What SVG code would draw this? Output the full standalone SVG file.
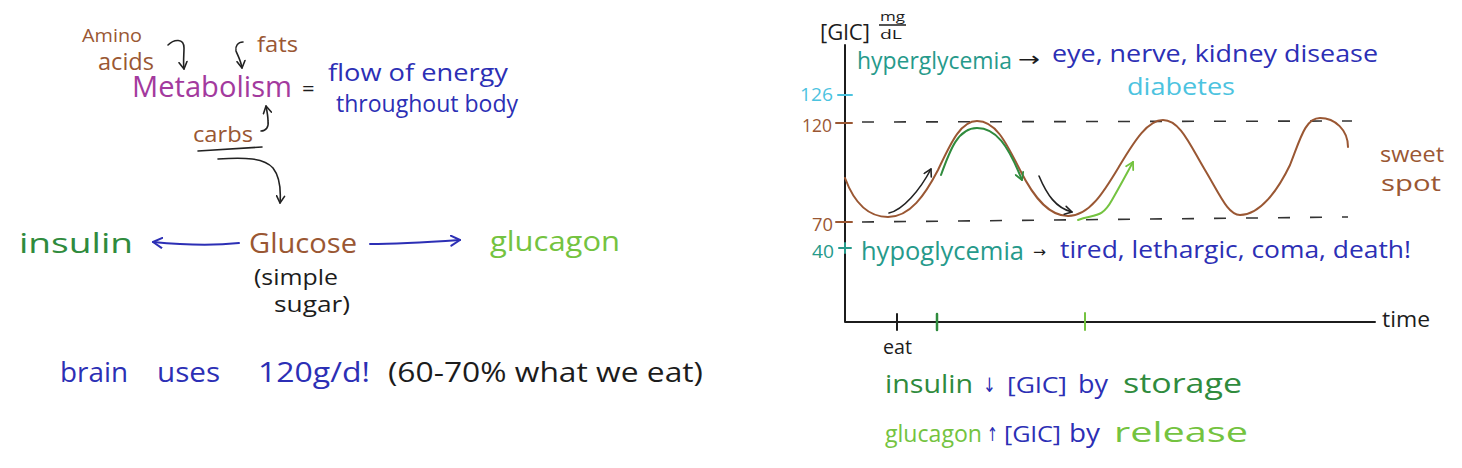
<svg xmlns="http://www.w3.org/2000/svg" width="1462" height="468" viewBox="0 0 1462 468">
<style>
text{font-family:"Open Sans","Liberation Sans",sans-serif;font-weight:400}
.ar{font-family:"DejaVu Sans","Liberation Sans",sans-serif}
.br{fill:#9a5733}.pu{fill:#a33a9e}.bl{fill:#2c2fb5}.gr{fill:#2f8b3d}.lg{fill:#74c340}.te{fill:#269a8b}.cy{fill:#4cc3df}.bk{fill:#1c1c1c}
.ln{fill:none;stroke-linecap:round;stroke-linejoin:round}
.k{stroke:#222;stroke-width:1.6}.b{stroke:#2c2fb5;stroke-width:2}.g{stroke:#2f8b3d;stroke-width:2}.l{stroke:#74c340;stroke-width:2}
.c{stroke:#9a5733;stroke-width:2}
.dash{fill:none;stroke:#333;stroke-width:1.6;stroke-dasharray:12 20}
</style>
<defs>
<marker id="mk" viewBox="0 0 10 10" refX="8" refY="5" markerWidth="10" markerHeight="10" markerUnits="userSpaceOnUse" orient="auto"><path d="M1,1 L8,5 L1,9" fill="none" stroke="#222" stroke-width="1.6" stroke-linecap="round" stroke-linejoin="round"/></marker>
<marker id="mb" viewBox="0 0 12 12" refX="10" refY="6" markerWidth="12" markerHeight="12" markerUnits="userSpaceOnUse" orient="auto"><path d="M1,1 L10,6 L1,11" fill="none" stroke="#2c2fb5" stroke-width="2" stroke-linecap="round" stroke-linejoin="round"/></marker>
<marker id="mg" viewBox="0 0 10 10" refX="8" refY="5" markerWidth="10" markerHeight="10" markerUnits="userSpaceOnUse" orient="auto"><path d="M1,1 L8,5 L1,9" fill="none" stroke="#2f8b3d" stroke-width="1.8" stroke-linecap="round" stroke-linejoin="round"/></marker>
<marker id="ml" viewBox="0 0 10 10" refX="8" refY="5" markerWidth="10" markerHeight="10" markerUnits="userSpaceOnUse" orient="auto"><path d="M1,1 L8,5 L1,9" fill="none" stroke="#74c340" stroke-width="1.8" stroke-linecap="round" stroke-linejoin="round"/></marker>
</defs>
<rect width="1462" height="468" fill="#ffffff"/>

<!-- Left side nodes -->
<g id="amino-acids">
<text class="br" x="82" y="42" font-size="19" textLength="60" lengthAdjust="spacingAndGlyphs">Amino</text>
<text class="br" x="98" y="70" font-size="23" textLength="56" lengthAdjust="spacingAndGlyphs">acids</text>
</g>
<g id="fats"><text class="br" x="257" y="52" font-size="22" textLength="41" lengthAdjust="spacingAndGlyphs">fats</text></g>
<g id="metabolism">
<text class="pu" x="132" y="97" font-size="29" textLength="160" lengthAdjust="spacingAndGlyphs">Metabolism</text>
<text class="bk" x="302" y="96" font-size="22">=</text>
</g>
<g id="definition">
<text class="bl" x="328" y="81" font-size="24" textLength="180" lengthAdjust="spacingAndGlyphs">flow of energy</text>
<text class="bl" x="336" y="112" font-size="24" textLength="182" lengthAdjust="spacingAndGlyphs">throughout body</text>
</g>
<g id="carbs"><text class="br" x="193" y="142" font-size="22" textLength="60" lengthAdjust="spacingAndGlyphs">carbs</text></g>
<g id="glucose">
<text class="br" x="249" y="253" font-size="28" textLength="108" lengthAdjust="spacingAndGlyphs">Glucose</text>
<text class="bk" x="254" y="285" font-size="21" textLength="84" lengthAdjust="spacingAndGlyphs">(simple</text>
<text class="bk" x="274" y="312" font-size="21" textLength="76" lengthAdjust="spacingAndGlyphs">sugar)</text>
</g>
<g id="insulin"><text class="gr" x="19" y="253" font-size="28" textLength="114" lengthAdjust="spacingAndGlyphs">insulin</text></g>
<g id="glucagon"><text class="lg" x="490" y="251" font-size="28" textLength="130" lengthAdjust="spacingAndGlyphs">glucagon</text></g>
<g id="brain-note">
<text class="bl" x="60" y="382" font-size="28" textLength="68" lengthAdjust="spacingAndGlyphs">brain</text>
<text class="bl" x="157" y="382" font-size="28" textLength="63" lengthAdjust="spacingAndGlyphs">uses</text>
<text class="bl" x="258" y="382" font-size="28" textLength="112" lengthAdjust="spacingAndGlyphs">120g/d!</text>
<text class="bk" x="388" y="382" font-size="27" textLength="315" lengthAdjust="spacingAndGlyphs">(60-70% what we eat)</text>
</g>

<!-- Chart -->
<g id="axes" class="ln" stroke="#1c1c1c" stroke-width="2">
<path d="M845,45 L845,322 L1375,322"/>
<path d="M897,314 L897,330"/>
<path d="M937,314 L937,330" stroke="#2f8b3d" stroke-width="2.5"/>
<path d="M1085,313 L1085,330" stroke="#74c340" stroke-width="2"/>
<path d="M838,95 L852,95" stroke="#4cc3df"/>
<path d="M836,123 L852,123" stroke="#9a5733"/>
<path d="M836,222 L852,222" stroke="#9a5733"/>
<path d="M839,248 L851,248 M845,243 L845,253" stroke="#269a8b"/>
</g>
<g id="axis-labels">
<text class="bk" x="820" y="40" font-size="21" textLength="50" lengthAdjust="spacingAndGlyphs">[GlC]</text>
<text class="bk" x="880" y="21" font-size="12" textLength="25" lengthAdjust="spacingAndGlyphs">mg</text>
<path d="M879,25 L906,25" stroke="#1c1c1c" stroke-width="1.5"/>
<text class="bk" x="880" y="39" font-size="12" textLength="22" lengthAdjust="spacingAndGlyphs">dL</text>
<text class="cy" x="800" y="101" font-size="18" textLength="33" lengthAdjust="spacingAndGlyphs">126</text>
<text class="br" x="802" y="132" font-size="18" textLength="30" lengthAdjust="spacingAndGlyphs">120</text>
<text class="br" x="812" y="231" font-size="18" textLength="21" lengthAdjust="spacingAndGlyphs">70</text>
<text class="te" x="812" y="258" font-size="18" textLength="22" lengthAdjust="spacingAndGlyphs">40</text>
<text class="bk" x="1382" y="327" font-size="22" textLength="48" lengthAdjust="spacingAndGlyphs">time</text>
<text class="bk" x="883" y="354" font-size="20" textLength="29" lengthAdjust="spacingAndGlyphs">eat</text>
</g>
<g id="hyperglycemia">
<text class="te" x="857" y="69" font-size="24" textLength="155" lengthAdjust="spacingAndGlyphs">hyperglycemia</text>
<text class="bk ar" x="1018" y="66" font-size="20" textLength="22" lengthAdjust="spacingAndGlyphs">→</text>
<text class="bl" x="1052" y="62" font-size="24" textLength="326" lengthAdjust="spacingAndGlyphs">eye, nerve, kidney disease</text>
<text class="cy" x="1127" y="95" font-size="24" textLength="108" lengthAdjust="spacingAndGlyphs">diabetes</text>
</g>
<g id="hypoglycemia">
<text class="te" x="861" y="260" font-size="25" textLength="163" lengthAdjust="spacingAndGlyphs">hypoglycemia</text>
<text class="bk ar" x="1033" y="257" font-size="15" textLength="13" lengthAdjust="spacingAndGlyphs">→</text>
<text class="bl" x="1060" y="258" font-size="24" textLength="351" lengthAdjust="spacingAndGlyphs">tired, lethargic, coma, death!</text>
</g>
<g id="sweet-spot">
<text class="br" x="1380" y="162" font-size="22" textLength="64" lengthAdjust="spacingAndGlyphs">sweet</text>
<text class="br" x="1381" y="191" font-size="22" textLength="60" lengthAdjust="spacingAndGlyphs">spot</text>
</g>
<g id="glucose-curve">
<path class="dash" d="M862,122 L1352,121"/>
<path class="dash" d="M862,222 L1348,217"/>
<path class="ln c" d="M845,178 C855,205 870,217 888,217 C910,217 925,195 938,170 C950,145 960,121 977,121 C995,121 1005,140 1020,170 C1035,200 1050,216 1068,216 C1090,216 1105,190 1120,165 C1135,140 1148,120 1163,120 C1180,120 1190,145 1205,170 C1220,195 1228,215 1240,215 C1260,215 1278,190 1290,165 C1300,140 1305,118 1320,118 C1335,118 1348,130 1348,147"/>
</g>
<g id="hormone-notes">
<text class="gr" x="885" y="393" font-size="25" textLength="88" lengthAdjust="spacingAndGlyphs">insulin</text>
<text class="bl ar" x="983" y="392" font-size="20" textLength="13" lengthAdjust="spacingAndGlyphs">↓</text>
<text class="bl" x="1007" y="393" font-size="21" textLength="60" lengthAdjust="spacingAndGlyphs">[GlC]</text>
<text class="bl" x="1078" y="393" font-size="25" textLength="30" lengthAdjust="spacingAndGlyphs">by</text>
<text class="gr" x="1123" y="393" font-size="27" textLength="119" lengthAdjust="spacingAndGlyphs">storage</text>
<text class="lg" x="885" y="442" font-size="23" textLength="97" lengthAdjust="spacingAndGlyphs">glucagon</text>
<text class="bl ar" x="987" y="441" font-size="19" textLength="11" lengthAdjust="spacingAndGlyphs">↑</text>
<text class="bl" x="1004" y="442" font-size="21" textLength="57" lengthAdjust="spacingAndGlyphs">[GlC]</text>
<text class="bl" x="1069" y="442" font-size="25" textLength="31" lengthAdjust="spacingAndGlyphs">by</text>
<text class="lg" x="1114" y="442" font-size="27" textLength="134" lengthAdjust="spacingAndGlyphs">release</text>
</g>

<!-- Connectors -->
<g id="connectors">
<path class="ln k" d="M168,45 C174,39 184,38 184,48 C184,55 183,62 184,69" marker-end="url(#mk)"/>
<path class="ln k" d="M243,42 C238,42 235,46 236,51 C238,56 241,61 242,68" marker-end="url(#mk)"/>
<path class="ln k" d="M261,131 C266,131 269,127 268,121 C268,116 267,111 266,106" marker-end="url(#mk)"/>
<path class="ln k" d="M198,151 Q230,149 262,147"/>
<path class="ln k" d="M218,159 C245,157 264,158 273,168 C280,177 281,190 280,203" marker-end="url(#mk)"/>
<path class="ln b" d="M239,243 C210,246 185,245 153,242" marker-end="url(#mb)"/>
<path class="ln b" d="M370,244 C400,244 430,242 460,240" marker-end="url(#mb)"/>
<path class="ln k" d="M889,213 C903,210 920,190 931,169" marker-end="url(#mk)"/>
<path class="ln g" d="M941,175 C950,150 958,128 977,128 C996,128 1008,145 1022,180" marker-end="url(#mg)"/>
<path class="ln k" d="M1039,176 C1047,195 1056,208 1072,212" marker-end="url(#mk)"/>
<path class="ln l" d="M1078,220 C1096,214 1102,218 1112,200 C1120,186 1126,175 1133,162" marker-end="url(#ml)"/>
</g>
</svg>
